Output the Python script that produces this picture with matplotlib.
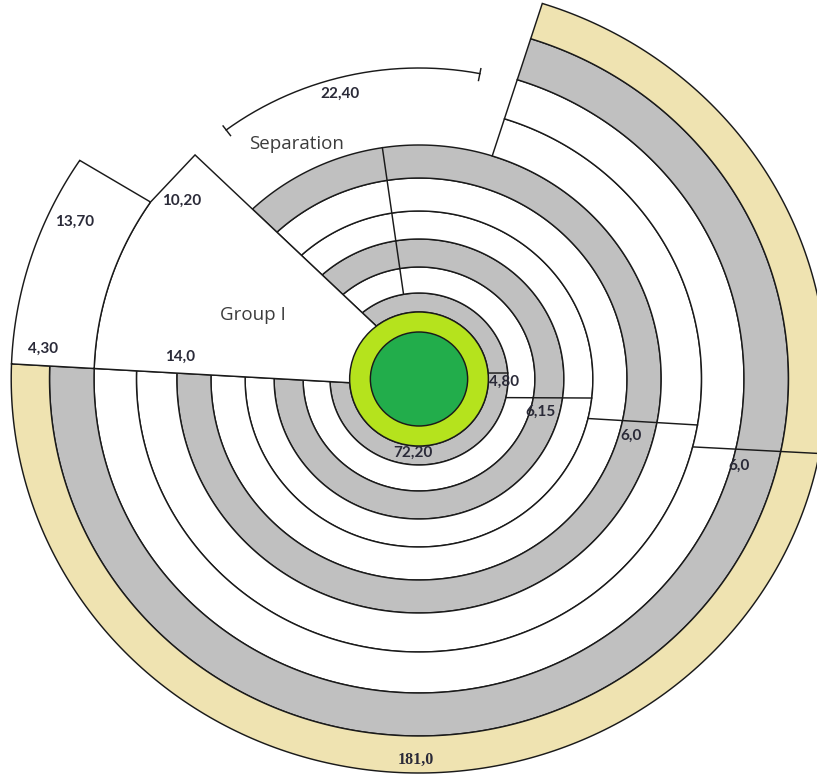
import numpy as np
import matplotlib
matplotlib.use("Agg")
import matplotlib.pyplot as plt
from matplotlib.patches import Polygon, Circle

# ---------------- data ----------------
core_radii = [67, 47]                       # light green disc, dark green disc
core_colors = ["#b5e31d", "#22ad4b"]

ring_edges = [67, 86, 112, 140, 168, 201, 234, 273, 314, 357, 394]
ring_colors = ["#c0c0c0", "white", "#c0c0c0", "white", "white", "#c0c0c0",
               "white", "white", "#c0c0c0", "#efe3b1"]
n_inner_rings = 6                           # rings that run up to the Group I edge

left_line = [(62, 183.7), (393.5, 177.8)]   # (radius, angle) end points
upper_line = [(71.5, 128.4), (311.5, 134.0)]
outer_end_angle = 72.4
separation_line = [(86, 100.0), (234, 98.7)]
group_arc_r, group_arc_start = 314, 145.7
band_top = [(314, 145.7), (394, 146.3)]
dim_arc = (311, 79.1, 126.8)

# step boundary lines on the right: (r_in, angle_in, r_out, angle_out)
steps = [(67, 5.1, 86, 4.0),
         (86, -12.5, 168, -6.5),
         (168, -13.6, 273, -9.7),
         (273, -14.4, 394, -10.9)]

value_labels = ["22,40", "10,20", "13,70", "4,30", "14,0", "4,80",
                "6,15", "6,0", "6,0", "72,20", "181,0"]
section_labels = ["Separation", "Group I"]

# ---------------- geometry helpers ----------------
CX, CY, SX = 419.0, 379.0, 1.035


def P(px, py):
    return ((px - CX) / SX, CY - py)


def pol(r, a):
    t = np.radians(a)
    return np.array([r * np.cos(t), r * np.sin(t)])


def angle_on_line(line, r):
    p0, p1 = pol(*line[0]), pol(*line[1])
    d = (p1 - p0) / np.linalg.norm(p1 - p0)
    b = p0 @ d
    c = p0 @ p0 - r * r
    t = -b + np.sqrt(max(b * b - c, 0))
    q = p0 + t * d
    return np.degrees(np.arctan2(q[1], q[0])) % 360


def arc(r, a1, a2, n=300):
    a = np.radians(np.linspace(a1, a2, n))
    return np.column_stack([r * np.cos(a), r * np.sin(a)])


# ---------------- figure ----------------
fig = plt.figure(figsize=(8.17, 7.80), dpi=100)
ax = fig.add_axes([0, 0, 1, 1])
ax.set_xlim(P(0, 0)[0], P(817, 0)[0])
ax.set_ylim(P(0, 780)[1], P(0, 0)[1])
ax.axis("off")

EC = "#1a1a1a"
LW = 1.05

# rings
for i, col in enumerate(ring_colors):
    r_in, r_out = ring_edges[i], ring_edges[i + 1]
    s_in, s_out = angle_on_line(left_line, r_in), angle_on_line(left_line, r_out)
    if i < n_inner_rings:
        e_in = angle_on_line(upper_line, r_in) + 360
        e_out = angle_on_line(upper_line, r_out) + 360
    else:
        e_in = e_out = outer_end_angle + 360
    pts = np.vstack([arc(r_out, s_out, e_out), arc(r_in, e_in, s_in)])
    ax.add_patch(Polygon(pts, closed=True, facecolor=col, edgecolor=EC, lw=LW, zorder=2))

# Group I wedge with pointed tip
a_left_arc = angle_on_line(left_line, group_arc_r)
pts = np.vstack([
    pol(67, angle_on_line(upper_line, 67))[None, :],
    pol(*upper_line[1])[None, :],
    arc(group_arc_r, group_arc_start, a_left_arc),
    pol(*left_line[0])[None, :],
])
ax.add_patch(Polygon(pts, closed=True, facecolor="white", edgecolor=EC, lw=LW, zorder=2))

# 13,70 band
a_left_out = angle_on_line(left_line, ring_edges[-1])
pts = np.vstack([
    arc(band_top[1][0], band_top[1][1], a_left_out),
    arc(group_arc_r, a_left_arc, band_top[0][1]),
])
ax.add_patch(Polygon(pts, closed=True, facecolor="white", edgecolor=EC, lw=LW, zorder=2))

# separation radial line
p0, p1 = pol(*separation_line[0]), pol(*separation_line[1])
ax.plot([p0[0], p1[0]], [p0[1], p1[1]], color=EC, lw=LW, zorder=3)

# step lines
for r0, a0, r1, a1 in steps:
    p0, p1 = pol(r0, a0), pol(r1, a1)
    ax.plot([p0[0], p1[0]], [p0[1], p1[1]], color=EC, lw=LW, zorder=3)

# dimension arc with end ticks
r, a1, a2 = dim_arc
d = arc(r, a1, a2)
ax.plot(d[:, 0], d[:, 1], color=EC, lw=LW, zorder=3)
for a in (a1, a2):
    q0, q1 = pol(r - 7, a), pol(r + 5, a)
    ax.plot([q0[0], q1[0]], [q0[1], q1[1]], color=EC, lw=LW, zorder=3)

# core discs
for rr, col in zip(core_radii, core_colors):
    ax.add_patch(Circle((0, 0), rr, facecolor=col, edgecolor=EC, lw=LW, zorder=4))

# ---------------- text ----------------
num_pos = [(340, 94), (182, 201), (75, 222), (43, 349), (180, 357), (504, 382),
           (541, 412), (631, 436), (739, 466), (413, 453), (416, 760)]
NUMC = "#2a2a38"
for lab, (px, py) in zip(value_labels, num_pos):
    if lab == "181,0":
        fam, fs = ["Liberation Serif"], 11.5
    else:
        fam, fs = ["Lato", "DejaVu Sans"], 11
    ax.text(*P(px, py), lab, ha="center", va="center", fontsize=fs,
            fontweight="bold", family=fam, color=NUMC, zorder=6)

sec_pos = [(297, 144), (253, 315)]
for lab, (px, py) in zip(section_labels, sec_pos):
    ax.text(*P(px, py), lab, ha="center", va="center", fontsize=13.5,
            family=["Open Sans", "DejaVu Sans"], color="#3c3c3c", zorder=6)

fig.savefig("out.png", dpi=100)
